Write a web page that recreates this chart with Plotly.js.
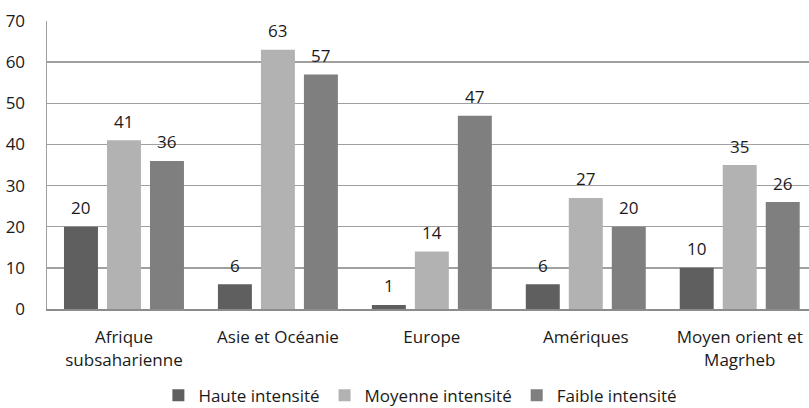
<!DOCTYPE html>
<html>
<head>
<meta charset="utf-8">
<script src="https://cdn.plot.ly/plotly-3.0.1.min.js"></script>
<style>html,body{margin:0;padding:0;background:#fff;}#chart{width:809px;height:408px;}</style>
</head>
<body>
<div id="chart"></div>
<script>
const categories = ["Afrique<br>subsaharienne", "Asie et Océanie", "Europe", "Amériques", "Moyen orient et<br>Magrheb"];
const seriesNames = ["Haute intensité", "Moyenne intensité", "Faible intensité"];
const haute = [20, 6, 1, 6, 10];
const moyenne = [41, 63, 14, 27, 35];
const faible = [36, 57, 47, 20, 26];
const yTicks = [0, 10, 20, 30, 40, 50, 60, 70];

const colors = ["#5f5f5f", "#b2b2b2", "#7f7f7f"];
const FONT = "'Open Sans', sans-serif";
const vals = [haute, moyenne, faible];

const traces = vals.map((v, i) => ({
  type: "bar",
  name: seriesNames[i],
  x: categories,
  y: v,
  marker: {color: colors[i]},
  hoverinfo: "skip"
}));

// value labels above each bar (placed from the data values)
const BAR_STEP = 43;
const annotations = [];
vals.forEach((v, i) => {
  v.forEach((val, j) => {
    annotations.push({
      xref: "x", yref: "y",
      x: categories[j], y: val,
      text: String(val),
      showarrow: false,
      xanchor: "center", yanchor: "middle",
      xshift: (i - 1) * BAR_STEP,
      yshift: 19,
      font: {family: FONT, size: 17, color: "#1a1a1a"}
    });
  });
});

const layout = {
  width: 809, height: 408,
  margin: {l: 47, r: 0, t: 21, b: 99},
  paper_bgcolor: "#fff", plot_bgcolor: "#fff",
  barmode: "group",
  bargap: 0.162,
  bargroupgap: 0.21,
  font: {family: FONT, size: 17, color: "#1a1a1a"},
  annotations: annotations,
  xaxis: {
    type: "category",
    range: [-0.5, 4.45],
    showgrid: false,
    showline: true, linecolor: "#8c8c8c", linewidth: 2,
    ticks: "",
    tickfont: {family: FONT, size: 17, color: "#1a1a1a"},
    ticklabelstandoff: 12
  },
  yaxis: {
    range: [0, 70],
    tickvals: yTicks,
    showgrid: true, gridcolor: "#a0a0a0", gridwidth: 1.5,
    showline: true, linecolor: "#a0a0a0", linewidth: 1.5,
    zeroline: false,
    ticks: "",
    ticklabelstandoff: 17,
    tickfont: {family: FONT, size: 17, color: "#1a1a1a"}
  },
  showlegend: true,
  legend: {
    orientation: "h",
    xref: "paper", yref: "container",
    x: 0.49, xanchor: "center",
    y: 0.03, yanchor: "middle",
    font: {family: FONT, size: 17, color: "#1a1a1a"},
    itemwidth: 30,
    itemclick: false
  }
};

Plotly.newPlot("chart", traces, layout, {staticPlot: true});
</script>
</body>
</html>
